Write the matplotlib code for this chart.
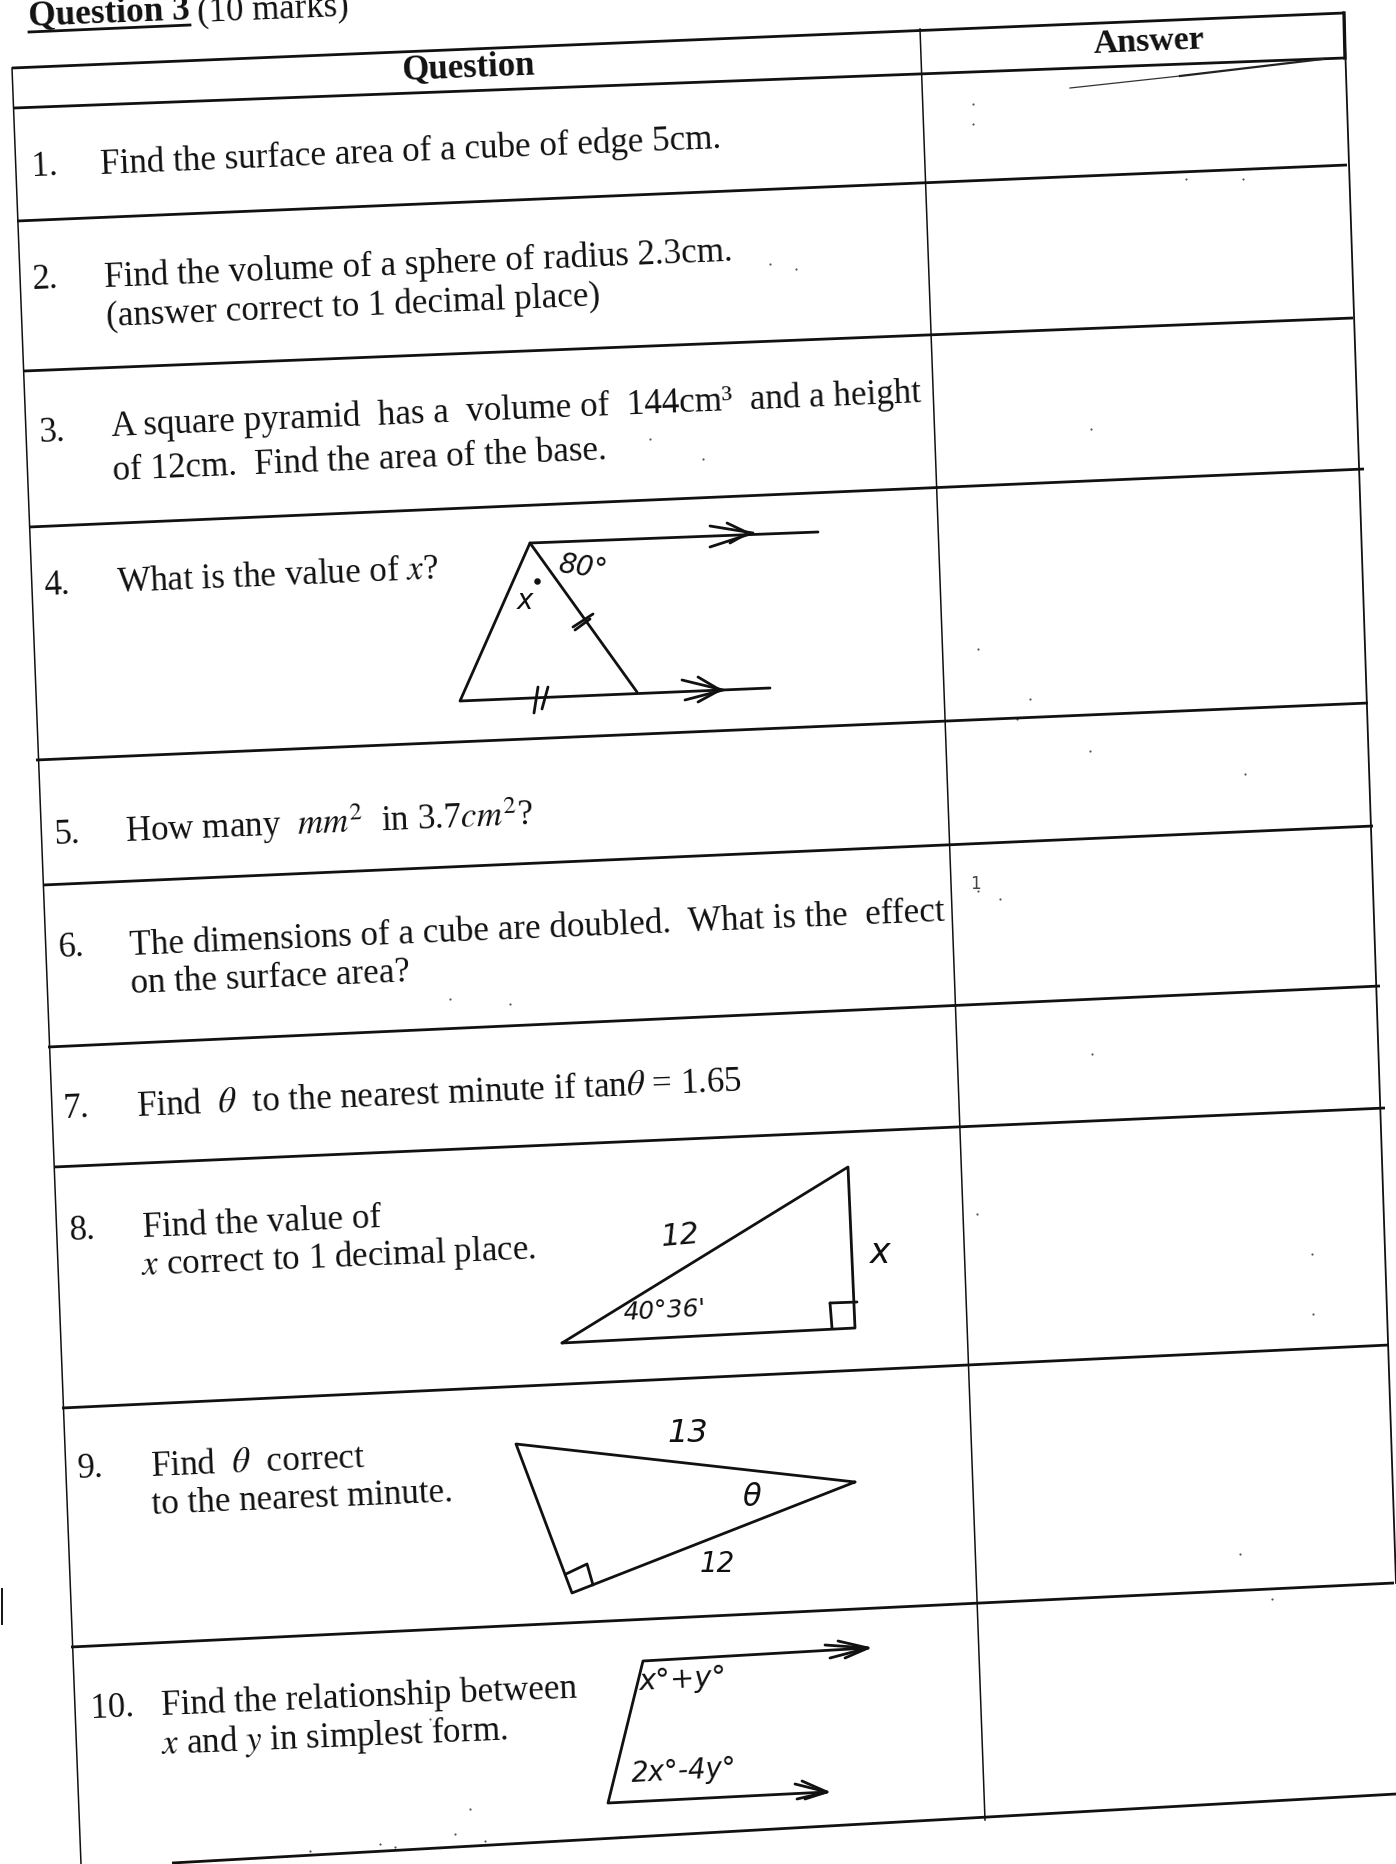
import matplotlib
matplotlib.use("Agg")
import matplotlib.pyplot as plt

plt.rcParams["font.family"] = ["Liberation Serif", "DejaVu Serif"]
plt.rcParams["mathtext.fontset"] = "stix"

W, H = 1396, 1865
SLOPE = 2.4  # page is scanned a bit crooked
INK = "#111111"

# -------------------
# Text
# -------------------
numbers = ["1.", "2.", "3.", "4.", "5.", "6.", "7.", "8.", "9.", "10."]
number_xy = [(32, 176), (33, 289), (39, 442), (44, 595), (55, 844),
             (59, 957), (64, 1118), (70, 1240), (78, 1478), (91, 1718)]

lines = [
    "Find the surface area of a cube of edge 5cm.",
    "Find the volume of a sphere of radius 2.3cm.",
    "(answer correct to 1 decimal place)",
    "A square pyramid  has a  volume of  144cm³  and a height",
    "of 12cm.  Find the area of the base.",
    r"What is the value of $x$?",
    r"How many  $mm^2$  in 3.7$cm^2$?",
    "The dimensions of a cube are doubled.  What is the  effect",
    "on the surface area?",
    r"Find  $\theta$  to the nearest minute if tan$\theta$ = 1.65",
    "Find the value of",
    r"$x$ correct to 1 decimal place.",
    r"Find  $\theta$  correct",
    "to the nearest minute.",
    "Find the relationship between",
    r"$x$ and $y$ in simplest form.",
]
line_xy = [(101, 174), (105, 287), (107, 326), (112, 436), (113, 480),
           (117, 592), (126, 842), (130, 955), (131, 993), (137, 1116),
           (143, 1237), (142, 1275), (151, 1476), (152, 1514), (162, 1715),
           (162, 1754)]

# -------------------
# Table grid: left end and right end of each rule
# -------------------
rule_left = [(12, 69), (14, 109), (17, 222), (24, 372), (29, 528), (36, 761),
             (43, 886), (48, 1048), (54, 1168), (62, 1409), (71, 1648),
             (172, 1864)]
rule_right = [(1344, 14), (1344, 59), (1347, 166), (1353, 319), (1364, 470),
              (1368, 704), (1373, 827), (1380, 987), (1385, 1109),
              (1389, 1346), (1394, 1584), (1396, 1795)]
left_edge = [(12, 69), (81, 1865)]
mid_edge = [(920, 30), (985, 1821)]
right_edge = [(1344, 14), (1396, 1584)]

# -------------------
# Hand drawn figures
# -------------------
q4_lines = [
    [(818, 533), (530, 544), (460, 702), (770, 689)],
    [(530, 544), (637, 693)],
    [(710, 527), (753, 534), (710, 548)],
    [(727, 524), (748, 534), (730, 544)],
    [(682, 681), (723, 691), (685, 701)],
    [(698, 678), (720, 691), (698, 703)],
    [(573, 628), (593, 615)],
    [(575, 631), (590, 620)],
    [(538, 688), (534, 714)],
    [(548, 688), (542, 710)],
]
q8_lines = [
    [(562, 1344), (848, 1168), (855, 1329), (562, 1344)],
    [(830, 1304), (857, 1303)],
    [(830, 1304), (832, 1329)],
]
q9_lines = [
    [(855, 1483), (516, 1445), (572, 1594), (855, 1483)],
    [(566, 1575), (587, 1565), (593, 1586)],
]
q10_lines = [
    [(868, 1649), (643, 1662), (608, 1804), (827, 1793)],
    [(825, 1646), (868, 1649), (830, 1659)],
    [(838, 1642), (868, 1649), (845, 1659)],
    [(795, 1785), (827, 1793), (797, 1800)],
    [(802, 1782), (827, 1793), (805, 1800)],
]
hand_labels = [
    ("80°", 583, 567, 20, -8),
    ("x", 525, 601, 20, 0),
    ("12", 680, 1236, 22, 5),
    ("x", 880, 1253, 25, 0),
    ("40°36'", 665, 1311, 18, 3),
    ("13", 688, 1434, 23, 0),
    ("θ", 752, 1498, 22, 0),
    ("12", 717, 1564, 20, 0),
    ("x°+y°", 683, 1680, 21, 3),
    ("2x°-4y°", 684, 1771, 20, 3),
]
q4_dot = (537, 582)

# specks and stray marks from the photocopy
stroke_x = [1070, 1180, 1323]
stroke_y = [89, 77, 60]
speck_x = [973, 973, 1186, 1243, 770, 796, 1091, 650, 703, 978, 1090, 1000, 1030,
           1017, 978, 1245, 1312, 1092, 977, 450, 510, 1313, 1240, 1272, 395, 620,
           430, 470, 310, 380, 455, 485]
speck_y = [105, 125, 180, 180, 265, 270, 430, 440, 460, 650, 752, 900, 700, 720,
           892, 775, 1255, 1055, 1215, 1000, 1005, 1315, 1555, 1600, 1848, 1838,
           1720, 1810, 1852, 1845, 1835, 1842]


def main():
    fig = plt.figure(figsize=(W / 100, H / 100), dpi=100, facecolor="white")
    ax = fig.add_axes([0, 0, 1, 1])
    ax.set_xlim(0, W)
    ax.set_ylim(H, 0)
    ax.axis("off")

    # Grid
    for (x0, y0), (x1, y1) in zip(rule_left, rule_right):
        ax.plot([x0, x1], [y0, y1], color=INK, lw=2.0, solid_capstyle="butt")
    for edge, lw in [(left_edge, 1.1), (mid_edge, 1.1), (right_edge, 1.3)]:
        ax.plot([p[0] for p in edge], [p[1] for p in edge], color=INK, lw=lw)
    ax.plot([1344, 1345], [14, 59], color=INK, lw=2.4)

    # Heading
    kw = dict(rotation=SLOPE, rotation_mode="anchor", ha="left", va="baseline", color=INK)
    ax.text(29, 25, "Question 3", fontsize=25.4, fontweight="bold", **kw)
    ax.text(198, 21, "(10 marks)", fontsize=25, **kw)
    ax.plot([29, 190], [33, 26], color=INK, lw=2.0)
    ax.text(402, 79, "Question", fontsize=25, fontweight="bold", **kw)
    ax.text(1094, 53, "Answer", fontsize=24.5, fontweight="bold", **kw)

    # Questions
    for label, (x, y) in zip(numbers, number_xy):
        ax.text(x, y, label, fontsize=25, **kw)
    for line, (x, y) in zip(lines, line_xy):
        ax.text(x, y, line, fontsize=25.2, **kw)

    # Figures
    for group in [q4_lines, q8_lines, q9_lines, q10_lines]:
        for stroke in group:
            ax.plot([p[0] for p in stroke], [p[1] for p in stroke], color=INK, lw=2.0,
                    solid_joinstyle="round", solid_capstyle="round")
    for text, x, y, size, rot in hand_labels:
        ax.text(x, y, text, fontsize=size, rotation=rot, ha="center", va="center",
                style="italic", family="DejaVu Sans", color=INK)
    ax.scatter([q4_dot[0]], [q4_dot[1]], s=22, color=INK, linewidths=0)

    # Photocopy dirt
    ax.plot(stroke_x[:2], stroke_y[:2], color="#333333", lw=0.9)
    ax.plot(stroke_x[1:], stroke_y[1:], color="#222222", lw=1.6)
    ax.scatter(speck_x, speck_y, s=2.5, color="#555555", linewidths=0)
    ax.text(975, 884, "1", fontsize=12, family="DejaVu Sans", color="#444444", ha="center", va="center")
    ax.plot([2, 2], [1590, 1625], color=INK, lw=1.4)

    fig.savefig("out.png", dpi=100)
    plt.close(fig)


if __name__ == "__main__":
    main()
